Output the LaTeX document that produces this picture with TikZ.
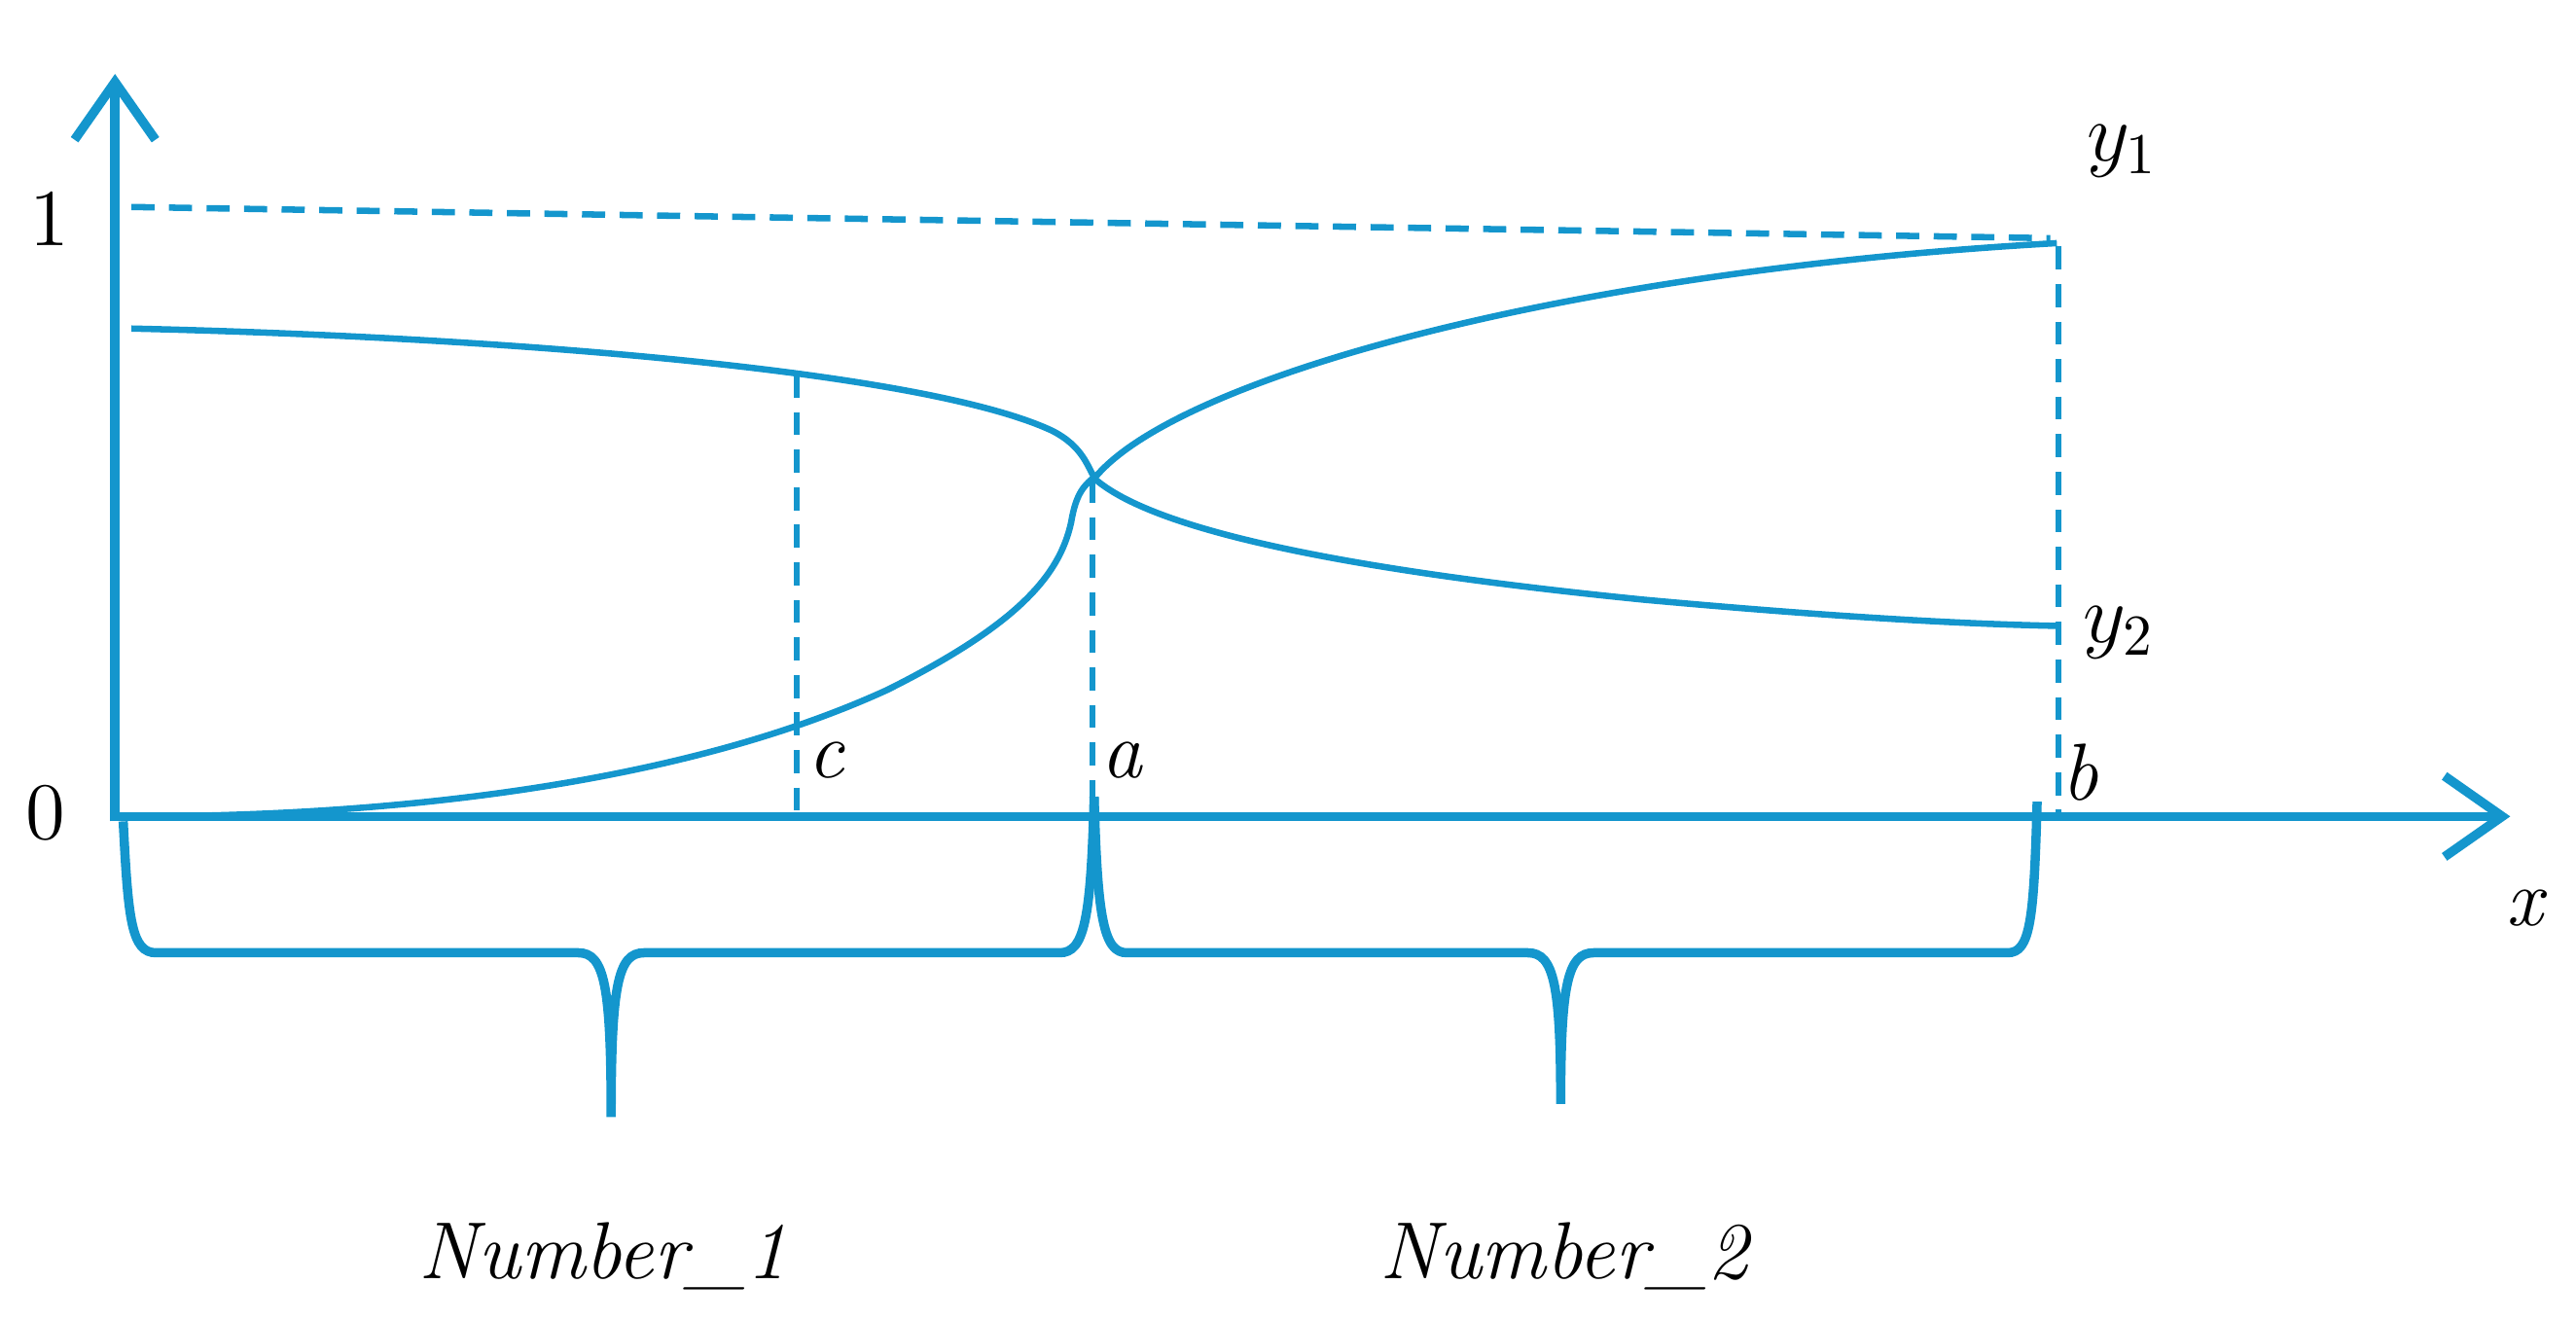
\documentclass[tikz,border=0pt]{standalone}
\usetikzlibrary{arrows.meta}
\definecolor{cb}{RGB}{20,150,205}
\begin{document}
\begin{tikzpicture}[x=0.01cm,y=-0.01cm,
  ax/.style={cb,line width=1.6pt,-{Straight Barb[length=10pt,width=14pt,line width=1.6pt]}},
  cv/.style={cb,line width=1.1pt},
  dsh/.style={cb,line width=1.1pt,dash pattern=on 4pt off 2.5pt},
  lbl/.style={font=\fontsize{14}{16}\selectfont\itshape},
  num/.style={font=\fontsize{14}{16}\selectfont}]
\useasboundingbox (0,0) rectangle (1568,803);
\coordinate (O) at (70,497);
\coordinate (Ytip) at (70,45);
\coordinate (Xtip) at (1528,497);
\draw[ax] (70,500) -- (Ytip);
\draw[ax] (70,497) -- (Xtip);
\node[num] (one) at (30,133) {1};
\node[num] (zero) at (28,495) {0};
\node[lbl] (xl) at (1537,553) {x};
% dashed lines
\coordinate (d1) at (80,126);
\coordinate (d2) at (1248,145);
\draw[dsh] (d1) -- (d2);
\draw[dsh] (1253,150) -- (1253,497);
\draw[dsh] (485,228) -- (485,497);
\draw[dsh] (665,292) -- (665,497);
% curves
\draw[cv] (80,200) .. controls (300,205) and (560,225) .. (640,262)
  .. controls (660,272) and (662,285) .. (667,292)
  .. controls (700,320) and (800,345) .. (1000,365)
  .. controls (1120,376) and (1200,380) .. (1252,381);
\draw[cv] (80,497) .. controls (250,497) and (420,475) .. (540,420)
  .. controls (620,380) and (645,350) .. (652,318)
  .. controls (655,300) and (660,295) .. (668,289)
  .. controls (720,230) and (950,165) .. (1252,148);
% labels
\node[lbl] (y1) at (1292,92) {$y_1$};
\node[lbl] (y2) at (1290,385) {$y_2$};
\node[lbl] (c) at (503,463) {c};
\node[lbl] (a) at (683,463) {a};
\node[lbl] (b) at (1266,470) {b};
% braces
\draw[cv,line width=1.6pt] (75,500) .. controls (78,560) and (80,580) .. (95,580) -- (352,580)
  .. controls (368,580) and (372,600) .. (372,680)
  .. controls (372,600) and (376,580) .. (392,580) -- (645,580)
  .. controls (660,580) and (664,560) .. (666,485);
\draw[cv,line width=1.6pt] (666,485) .. controls (668,560) and (672,580) .. (686,580) -- (930,580)
  .. controls (946,580) and (950,600) .. (950,672)
  .. controls (950,600) and (954,580) .. (970,580) -- (1222,580)
  .. controls (1236,580) and (1238,560) .. (1240,488);
\node[lbl] (n1) at (367,765) {Number\_1};
\node[lbl] (n2) at (952,765) {Number\_2};
\end{tikzpicture}
\end{document}
